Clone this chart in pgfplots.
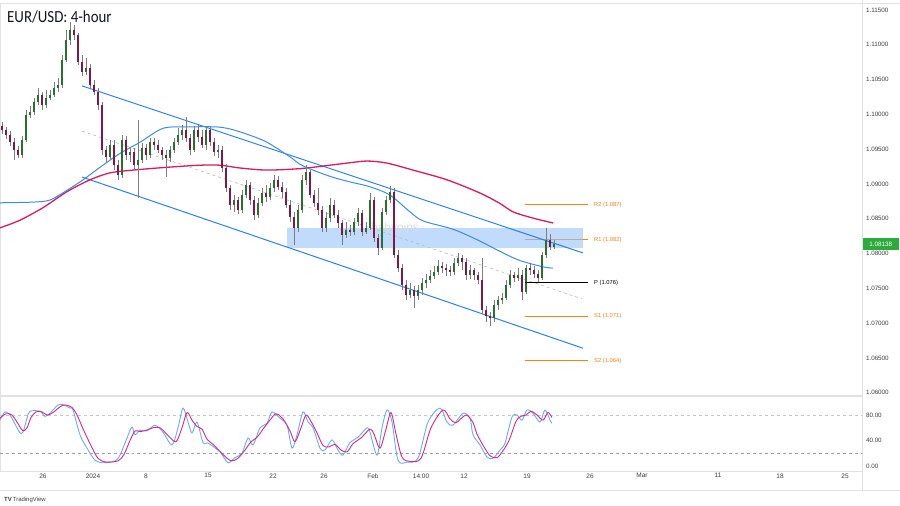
\documentclass[border=0pt]{standalone}
\usepackage{fontspec}
\setmainfont{Liberation Sans}
\newfontfamily\titlefont[FakeStretch=0.88]{Carlito}
\usepackage{pgfplots}
\usepackage{pgfplotstable}
\pgfplotsset{compat=1.18}

\definecolor{upc}{RGB}{40,112,45}
\definecolor{dnc}{RGB}{125,25,70}
\definecolor{wickc}{RGB}{125,125,125}
\definecolor{maPink}{RGB}{216,27,96}
\definecolor{maBlue}{RGB}{60,140,230}
\definecolor{chBlue}{RGB}{40,130,235}
\definecolor{boxc}{RGB}{150,196,250}
\definecolor{pivOr}{RGB}{245,130,20}
\definecolor{gridc}{RGB}{222,225,232}
\definecolor{txtc}{RGB}{60,62,70}
\definecolor{stK}{RGB}{100,175,245}
\definecolor{stD}{RGB}{215,40,140}
\definecolor{lastc}{RGB}{46,170,60}

\pgfplotstableread{
x o h l c
2 1.0983 1.0989 1.0972 1.0978
6 1.0978 1.0982 1.0965 1.0970
10 1.0970 1.0976 1.0955 1.0960
14 1.0960 1.0966 1.0935 1.0949
18 1.0949 1.0955 1.0937 1.0942
22 1.0942 1.0969 1.0937 1.0963
26 1.0963 1.1006 1.0960 1.0999
30 1.0999 1.1012 1.0995 1.1003
34 1.1003 1.1024 1.0999 1.1018
38 1.1018 1.1038 1.1014 1.1028
42 1.1028 1.1032 1.1006 1.1014
46 1.1014 1.1035 1.1009 1.1024
50 1.1024 1.1035 1.1021 1.1028
54 1.1028 1.1047 1.1025 1.1038
58 1.1038 1.1052 1.1032 1.1042
62 1.1042 1.1085 1.1038 1.1078
66 1.1078 1.1121 1.1075 1.1107
70 1.1107 1.1133 1.1100 1.1121
74 1.1121 1.1129 1.1107 1.1114
78 1.1114 1.1117 1.1071 1.1075
82 1.1075 1.1085 1.1055 1.1061
86 1.1061 1.1081 1.1057 1.1067
90 1.1067 1.1072 1.1038 1.1042
94 1.1042 1.1049 1.1028 1.1032
98 1.1032 1.1038 1.1006 1.1014
102 1.1014 1.1018 1.0942 1.0949
106 1.0949 1.0955 1.0932 1.0939
110 1.0939 1.0963 1.0935 1.0956
114 1.0956 1.0963 1.0920 1.0927
118 1.0927 1.0935 1.0906 1.0913
122 1.0913 1.0970 1.0909 1.0963
126 1.0963 1.0969 1.0935 1.0942
130 1.0942 1.0952 1.0932 1.0946
134 1.0946 1.0952 1.0920 1.0927
138 1.0927 1.0992 1.0880 1.0935
142 1.0935 1.0959 1.0930 1.0952
146 1.0952 1.0957 1.0935 1.0942
150 1.0942 1.0966 1.0937 1.0960
154 1.0960 1.0966 1.0949 1.0956
158 1.0956 1.0963 1.0944 1.0949
162 1.0949 1.0953 1.0935 1.0942
166 1.0942 1.0949 1.0910 1.0937
170 1.0937 1.0955 1.0932 1.0949
174 1.0949 1.0966 1.0944 1.0960
178 1.0960 1.0980 1.0956 1.0970
182 1.0970 1.0985 1.0963 1.0978
186 1.0978 1.0996 1.0960 1.0966
190 1.0966 1.0972 1.0942 1.0949
194 1.0949 1.0983 1.0946 1.0978
198 1.0978 1.0985 1.0960 1.0968
202 1.0968 1.0978 1.0952 1.0956
206 1.0956 1.0983 1.0949 1.0978
210 1.0978 1.0982 1.0955 1.0960
214 1.0960 1.0966 1.0940 1.0946
218 1.0946 1.0956 1.0937 1.0949
222 1.0949 1.0955 1.0917 1.0923
226 1.0923 1.0929 1.0889 1.0894
230 1.0894 1.0899 1.0863 1.0870
234 1.0870 1.0884 1.0860 1.0877
238 1.0877 1.0881 1.0857 1.0863
242 1.0863 1.0891 1.0858 1.0884
246 1.0884 1.0906 1.0880 1.0899
250 1.0899 1.0903 1.0870 1.0877
254 1.0877 1.0883 1.0848 1.0855
258 1.0855 1.0880 1.0851 1.0873
262 1.0873 1.0894 1.0868 1.0887
266 1.0887 1.0899 1.0874 1.0881
270 1.0881 1.0901 1.0877 1.0894
274 1.0894 1.0913 1.0889 1.0906
278 1.0906 1.0911 1.0891 1.0896
282 1.0896 1.0903 1.0880 1.0889
286 1.0889 1.0894 1.0866 1.0870
290 1.0870 1.0877 1.0845 1.0853
294 1.0853 1.0860 1.0812 1.0837
298 1.0837 1.0870 1.0831 1.0863
302 1.0863 1.0913 1.0858 1.0906
306 1.0906 1.0927 1.0899 1.0917
310 1.0917 1.0920 1.0880 1.0884
314 1.0884 1.0891 1.0867 1.0873
318 1.0873 1.0894 1.0855 1.0863
322 1.0863 1.0868 1.0831 1.0837
326 1.0837 1.0860 1.0831 1.0851
330 1.0851 1.0880 1.0845 1.0870
334 1.0870 1.0877 1.0851 1.0855
338 1.0855 1.0863 1.0837 1.0844
342 1.0844 1.0848 1.0812 1.0827
346 1.0827 1.0845 1.0822 1.0834
350 1.0834 1.0841 1.0825 1.0831
354 1.0831 1.0851 1.0827 1.0845
358 1.0845 1.0866 1.0840 1.0858
362 1.0858 1.0863 1.0825 1.0831
366 1.0831 1.0845 1.0828 1.0837
370 1.0837 1.0887 1.0834 1.0877
374 1.0877 1.0881 1.0817 1.0822
378 1.0822 1.0828 1.0798 1.0808
382 1.0808 1.0866 1.0805 1.0860
386 1.0860 1.0883 1.0855 1.0877
390 1.0877 1.0897 1.0873 1.0889
394 1.0889 1.0894 1.0794 1.0798
398 1.0798 1.0805 1.0774 1.0779
402 1.0779 1.0785 1.0748 1.0755
406 1.0755 1.0762 1.0733 1.0741
410 1.0741 1.0758 1.0736 1.0748
414 1.0748 1.0753 1.0722 1.0739
418 1.0739 1.0755 1.0733 1.0748
422 1.0748 1.0765 1.0741 1.0758
426 1.0758 1.0771 1.0751 1.0762
430 1.0762 1.0776 1.0758 1.0768
434 1.0768 1.0782 1.0763 1.0774
438 1.0774 1.0791 1.0769 1.0782
442 1.0782 1.0788 1.0772 1.0779
446 1.0779 1.0785 1.0768 1.0776
450 1.0776 1.0782 1.0768 1.0774
454 1.0774 1.0794 1.0769 1.0787
458 1.0787 1.0801 1.0782 1.0794
462 1.0794 1.0798 1.0776 1.0788
466 1.0788 1.0794 1.0762 1.0769
470 1.0769 1.0784 1.0763 1.0776
474 1.0776 1.0779 1.0762 1.0769
478 1.0769 1.0774 1.0756 1.0762
482 1.0762 1.0794 1.0713 1.0719
486 1.0719 1.0725 1.0702 1.0710
490 1.0710 1.0716 1.0696 1.0707
494 1.0707 1.0733 1.0702 1.0726
498 1.0726 1.0739 1.0719 1.0733
502 1.0733 1.0743 1.0728 1.0736
506 1.0736 1.0762 1.0733 1.0755
510 1.0755 1.0776 1.0751 1.0769
514 1.0769 1.0774 1.0759 1.0765
518 1.0765 1.0779 1.0761 1.0769
522 1.0769 1.0776 1.0733 1.0745
526 1.0745 1.0784 1.0742 1.0779
530 1.0779 1.0785 1.0769 1.0776
534 1.0776 1.0782 1.0765 1.0771
538 1.0771 1.0776 1.0759 1.0765
542 1.0765 1.0802 1.0762 1.0798
546 1.0798 1.0837 1.0794 1.0820
550 1.0820 1.0828 1.0805 1.0809
554 1.0809 1.0820 1.0807 1.0814
}\candles

\begin{document}
\begin{tikzpicture}
\useasboundingbox (0,0) rectangle (900bp,506bp);
\fill[white] (0,0) rectangle (900bp,506bp);

% main price panel
\begin{axis}[
  at={(0,111bp)}, anchor=south west, scale only axis,
  width=862bp, height=392bp,
  xmin=0, xmax=862, ymin=1.05968, ymax=1.11601,
  axis line style={draw=gridc, line width=0.6bp},
  xtick=\empty,
  ytick={1.060,1.065,1.070,1.075,1.080,1.085,1.090,1.095,1.100,1.105,1.110,1.115},
  yticklabels={1.06000,1.06500,1.07000,1.07500,1.08000,1.08500,1.09000,1.09500,1.10000,1.10500,1.11000,1.11500},
  yticklabel pos=right,
  yticklabel style={font=\fontsize{6.3}{7}\selectfont, text=txtc, anchor=west, xshift=0.5bp},
  major tick length=0pt,
  clip mode=individual,
]
% pivot lines (R1 under the zone)
\addplot[pivOr, line width=1.2bp, forget plot] coordinates {(525,1.0820) (588,1.0820)};
% resistance zone
\addplot[draw=none, fill=boxc, fill opacity=0.6, forget plot] coordinates {(287,1.0808) (287,1.0837) (583,1.0837) (583,1.0808)} -- cycle;
\node[text=gray!28, font=\fontsize{12}{12}\selectfont] at (axis cs:395,1.0836) {babypips};

% channel
\addplot[chBlue, line width=1bp, forget plot] coordinates {(82,1.1041) (583,1.0801)};
\addplot[chBlue, line width=1bp, forget plot] coordinates {(82,1.0910) (583,1.0664)};
\addplot[gray!55, dashed, line width=0.6bp, forget plot] coordinates {(82,1.0976) (582,1.0735)};

% moving averages
\addplot[maPink, line width=1.3bp, smooth, forget plot] coordinates {
(0,1.0837) (20,1.0848) (43,1.0866) (67,1.0889) (90,1.0906) (110,1.0916) (133,1.0920)
(167,1.0924) (200,1.0927) (220,1.0927) (240,1.0923) (267,1.0920) (300,1.0922) (313,1.0924)
(347,1.0930) (367,1.0933) (387,1.0930) (413,1.0920) (447,1.0906) (480,1.0887) (500,1.0872)
(513,1.0860) (533,1.0851) (553,1.0844)};
\addplot[maBlue, line width=1bp, smooth, forget plot] coordinates {
(0,1.0873) (33,1.0874) (50,1.0877) (67,1.0891) (83,1.0906) (100,1.0924) (120,1.0944)
(140,1.0960) (163,1.0980) (187,1.0982) (217,1.0982) (233,1.0978) (250,1.0970) (267,1.0960)
(290,1.0939) (303,1.0926) (330,1.0911) (350,1.0903) (370,1.0896) (390,1.0884) (410,1.0860)
(423,1.0847) (453,1.0835) (477,1.0820) (503,1.0801) (520,1.0790) (543,1.0781) (553,1.0779)};

% candles: wicks
\addplot[draw=none, forget plot, error bars/.cd, y dir=both, y explicit, error mark=none,
  error bar style={draw=wickc, solid, line width=0.7bp}]
  table[x=x, y expr={(\thisrow{h}+\thisrow{l})/2}, y error expr={(\thisrow{h}-\thisrow{l})/2}] {\candles};
% up bodies
\addplot[draw=none, forget plot, x filter/.expression={\thisrow{c}>=\thisrow{o} ? x : nan},
  error bars/.cd, y dir=both, y explicit, error mark=none,
  error bar style={draw=upc, solid, line width=2.4bp}]
  table[x=x, y expr={(\thisrow{o}+\thisrow{c})/2}, y error expr={abs(\thisrow{c}-\thisrow{o})/2}] {\candles};
% down bodies
\addplot[draw=none, forget plot, x filter/.expression={\thisrow{c}<\thisrow{o} ? x : nan},
  error bars/.cd, y dir=both, y explicit, error mark=none,
  error bar style={draw=dnc, solid, line width=2.4bp}]
  table[x=x, y expr={(\thisrow{o}+\thisrow{c})/2}, y error expr={abs(\thisrow{c}-\thisrow{o})/2}] {\candles};

% pivot lines
\addplot[pivOr, line width=1.2bp, forget plot] coordinates {(525,1.0870) (588,1.0870)};
\addplot[black, line width=1.2bp, forget plot] coordinates {(525,1.0758) (588,1.0758)};
\addplot[pivOr, line width=1.2bp, forget plot] coordinates {(525,1.0710) (588,1.0710)};
\addplot[pivOr, line width=1.2bp, forget plot] coordinates {(525,1.0646) (588,1.0646)};
\begin{scope}[every node/.style={anchor=west, font=\fontsize{5.8}{6}\selectfont, inner sep=0pt}]
\node[text=pivOr] at (axis cs:594,1.0870) {R2 (1.087)};
\node[text=pivOr] at (axis cs:594,1.0820) {R1 (1.082)};
\node[text=black] at (axis cs:594,1.0758) {P (1.076)};
\node[text=pivOr] at (axis cs:594,1.0710) {S1 (1.071)};
\node[text=pivOr] at (axis cs:594,1.0646) {S2 (1.064)};
\end{scope}

% last price tag
\node[anchor=west, fill=lastc, text=white, font=\fontsize{6.3}{7}\selectfont,
  minimum width=37bp, minimum height=12.5bp, inner sep=1bp] at (axis cs:862,1.08138) {1.08138};
\end{axis}

% stochastic panel
\begin{axis}[
  at={(0,35bp)}, anchor=south west, scale only axis,
  width=862bp, height=75bp,
  xmin=0, xmax=862, ymin=-8, ymax=110,
  axis line style={draw=gridc, line width=0.6bp},
  ytick={0,40,80}, yticklabels={0.00,40.00,80.00},
  yticklabel pos=right,
  yticklabel style={font=\fontsize{6.3}{7}\selectfont, text=txtc, anchor=west, xshift=0.5bp},
  xtick={43,93,146,208,273,324,373,421,464,527,590,642,718,780,845},
  xticklabels={26,2024,8,15,22,26,Feb,14:00,12,19,26,Mar,11,18,25},
  xticklabel style={font=\fontsize{6.5}{7}\selectfont, text=txtc, yshift=1bp},
  major tick length=0pt,
]
\addplot[gray!45, dashed, line width=0.6bp, forget plot] coordinates {(0,80) (862,80)};
\addplot[gray!75, dashed, line width=0.8bp, forget plot] coordinates {(0,20) (862,20)};
\addplot[stK, line width=0.9bp, smooth, forget plot] coordinates {
(0,72) (5,85) (10,80) (17,60) (20,52) (23,53) (27,75) (30,86) (40,86) (45,78) (50,83) (58,96)
(62,97) (70,91) (73,88) (80,49) (87,28) (95,9) (103,5) (115,8) (120,17) (127,44) (132,61)
(135,49) (140,56) (147,55) (155,64) (163,53) (172,33) (178,60) (183,91) (188,69) (192,52)
(197,69) (203,37) (208,36) (220,22) (228,5) (235,13) (242,20) (248,44) (253,33) (260,60)
(267,67) (272,85) (280,75) (287,64) (292,28) (297,49) (303,85) (308,69) (313,60) (320,28)
(325,25) (332,41) (338,25) (343,17) (350,37) (358,45) (367,60) (370,53) (377,17) (382,60)
(387,88) (392,69) (398,9) (407,6) (418,12) (428,69) (440,91) (447,69) (453,64) (463,83)
(470,75) (473,49) (480,33) (487,14) (493,12) (500,25) (505,36) (512,77) (517,80) (522,72)
(527,88) (533,83) (540,69) (545,88) (550,72) (552,67)};
\addplot[stD, line width=0.9bp, smooth, forget plot] coordinates {
(0,75) (6,82) (12,80) (19,64) (23,55) (27,60) (31,76) (36,85) (42,85) (47,80) (53,84) (60,93)
(65,96) (72,92) (77,80) (84,55) (91,32) (98,12) (106,6) (118,8) (124,18) (130,40) (135,55)
(140,54) (146,56) (153,60) (160,60) (168,48) (176,38) (182,60) (187,84) (192,72) (197,62)
(202,58) (207,42) (213,34) (223,18) (231,8) (238,12) (245,25) (251,38) (257,45) (264,60)
(270,72) (276,82) (283,74) (290,55) (295,38) (301,60) (306,80) (311,70) (317,52) (323,32)
(329,30) (335,34) (341,25) (347,22) (353,35) (361,44) (370,58) (374,50) (380,28) (386,58)
(391,84) (396,50) (402,14) (410,7) (421,12) (431,60) (443,88) (450,74) (456,68) (466,80)
(473,68) (477,50) (484,30) (490,16) (497,13) (503,24) (509,40) (516,70) (521,78) (526,80)
(531,86) (537,80) (543,72) (548,84) (552,76)};
\end{axis}

% frame decorations
\draw[gridc, line width=0.6bp] (862bp,16bp) -- (862bp,506bp);
\draw[gridc, line width=0.6bp] (0,16bp) -- (900bp,16bp);
\draw[gridc, line width=0.6bp] (0,503bp) -- (900bp,503bp);

% title
\node[anchor=north west, inner sep=0pt, text={rgb,255:red,19;green,23;blue,34}, font=\titlefont\fontsize{17}{18}\selectfont] at (7bp,495bp) {EUR/USD: 4-hour};
% footer
\node[anchor=west, inner sep=0pt, text=txtc, font=\fontsize{6}{7}\selectfont] at (4bp,6bp) {\textbf{TV}\,TradingView};
\end{tikzpicture}
\end{document}
